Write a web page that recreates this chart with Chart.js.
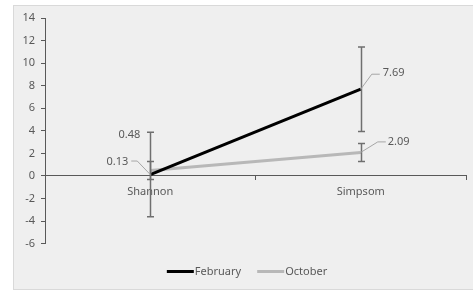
<!DOCTYPE html>
<html>
<head>
<meta charset="utf-8">
<script src="https://cdn.jsdelivr.net/npm/chart.js@4/dist/chart.umd.min.js"></script>
<style>
  html, body { margin: 0; padding: 0; background: #fff; }
  #wrap { width: 473px; height: 293px; }
</style>
</head>
<body>
<div id="wrap"><canvas id="chart" width="473" height="293"></canvas></div>
<script>
// data
const sites = ['Shannon', 'Simpsom'];
const seriesNames = ['February', 'October'];
const february = [0.13, 7.69];
const october = [0.48, 2.09];
const februaryErr = [3.75, 3.75];
const octoberErr = [0.8, 0.8];
const yMin = -6, yMax = 14, yStep = 2;

const textGrey = '#595959';
const font = { family: 'Noto Sans', size: 11 };

// where each data label sits relative to its point: text anchor + leader line
const labelSpots = [
  [ { dx: -22, dy: -12.5, align: 'right', leader: [[-13, -13.5], [-19, -13.5]] },
    { dx: 22, dy: -16, align: 'left', leader: [[11, -15], [19, -15]] } ],
  [ { dx: -10, dy: -35.6, align: 'right', leader: null },
    { dx: 27, dy: -10.4, align: 'left', leader: [[17, -10.5], [25, -10.5]] } ]
];

const panel = {
  id: 'panel',
  beforeDraw(chart) {
    const ctx = chart.ctx;
    ctx.save();
    ctx.fillStyle = '#fff';
    ctx.fillRect(0, 0, chart.width, chart.height);
    ctx.fillStyle = '#efefef';
    ctx.fillRect(13, 5, chart.width - 13, 285);
    ctx.strokeStyle = '#d9d9d9';
    ctx.lineWidth = 1;
    ctx.strokeRect(13.5, 5.5, chart.width - 13, 284);
    ctx.restore();
  }
};

const errorBars = {
  id: 'errorBars',
  afterDatasetsDraw(chart) {
    const ctx = chart.ctx;
    const y = chart.scales.y;
    const errs = [februaryErr, octoberErr];
    ctx.save();
    ctx.strokeStyle = '#6f6f6f';
    ctx.lineWidth = 1.5;
    chart.data.datasets.forEach((ds, i) => {
      const meta = chart.getDatasetMeta(i);
      meta.data.forEach((pt, j) => {
        const top = y.getPixelForValue(ds.data[j] + errs[i][j]);
        const bot = y.getPixelForValue(ds.data[j] - errs[i][j]);
        const x = Math.round(pt.x) + 0.5;
        ctx.beginPath();
        ctx.moveTo(x, top); ctx.lineTo(x, bot);
        ctx.moveTo(x - 3.5, top); ctx.lineTo(x + 3.5, top);
        ctx.moveTo(x - 3.5, bot); ctx.lineTo(x + 3.5, bot);
        ctx.stroke();
      });
    });
    ctx.restore();
  }
};

const dataLabels = {
  id: 'dataLabels',
  afterDraw(chart) {
    const ctx = chart.ctx;
    ctx.save();
    ctx.font = font.size + 'px ' + font.family;
    ctx.textBaseline = 'middle';
    chart.data.datasets.forEach((ds, i) => {
      const meta = chart.getDatasetMeta(i);
      meta.data.forEach((pt, j) => {
        const s = labelSpots[i][j];
        if (s.leader) {
          ctx.strokeStyle = '#a6a6a6';
          ctx.lineWidth = 1;
          ctx.beginPath();
          ctx.moveTo(pt.x, pt.y);
          s.leader.forEach(p => ctx.lineTo(pt.x + p[0], pt.y + p[1]));
          ctx.stroke();
        }
        ctx.fillStyle = textGrey;
        ctx.textAlign = s.align;
        ctx.fillText(ds.data[j].toFixed(2), pt.x + s.dx, pt.y + s.dy);
      });
    });

    // legend at the bottom
    const items = chart.data.datasets;
    const lineW = 27, gap = 1, spacing = 16;
    let total = 0;
    items.forEach((ds, k) => {
      total += lineW + gap + ctx.measureText(ds.label).width + (k ? spacing : 0);
    });
    let x = 247 - total / 2;
    const ly = 271.5;
    ctx.textAlign = 'left';
    items.forEach(ds => {
      ctx.strokeStyle = ds.borderColor;
      ctx.lineWidth = 3;
      ctx.beginPath();
      ctx.moveTo(x, ly); ctx.lineTo(x + lineW, ly);
      ctx.stroke();
      x += lineW + gap;
      ctx.fillStyle = textGrey;
      ctx.fillText(ds.label, x, ly);
      x += ctx.measureText(ds.label).width + spacing;
    });
    ctx.restore();
  }
};

new Chart(document.getElementById('chart'), {
  type: 'line',
  data: {
    labels: sites,
    datasets: [
      { label: seriesNames[0], data: february, borderColor: '#000000', borderWidth: 3 },
      { label: seriesNames[1], data: october, borderColor: '#b8b8b8', borderWidth: 3 }
    ]
  },
  options: {
    responsive: false,
    animation: false,
    devicePixelRatio: 1,
    layout: { padding: { left: 0, right: 7, top: 18, bottom: 49.3 } },
    elements: { point: { radius: 0, hoverRadius: 0 }, line: { tension: 0, borderCapStyle: 'butt' } },
    plugins: { legend: { display: false }, tooltip: { enabled: false } },
    scales: {
      x: {
        type: 'category',
        offset: true,
        position: { y: 0 },
        grid: { offset: true, drawOnChartArea: false, tickLength: 4, color: textGrey },
        border: { color: textGrey, width: 1 },
        ticks: { color: textGrey, font: font, padding: 5 }
      },
      y: {
        min: yMin,
        max: yMax,
        ticks: { stepSize: yStep, color: textGrey, font: font, padding: 6 },
        grid: { drawOnChartArea: false, tickLength: 4, color: textGrey },
        border: { color: textGrey, width: 1 },
        afterFit(scale) { scale.width = 45; }
      }
    }
  },
  plugins: [panel, errorBars, dataLabels]
});
</script>
</body>
</html>
